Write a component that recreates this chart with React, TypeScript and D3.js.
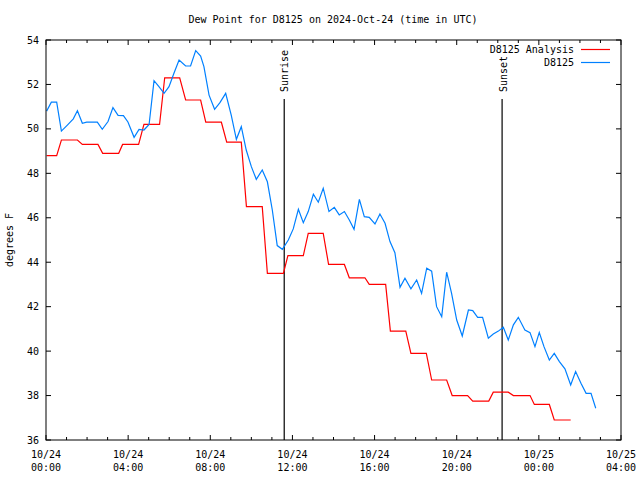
import React from 'react';
import * as d3 from 'd3';

// Hours since 2024-10-24 00:00 UTC
const obsHours = [
  0.03, 0.26, 0.52, 0.75, 1.04, 1.33, 1.53, 1.77, 1.98, 2.5, 2.74, 3.02, 3.26, 3.51, 3.77, 3.99,
  4.29, 4.53, 4.77, 5.02, 5.26, 5.5, 5.75, 5.99, 6.23, 6.48, 6.8, 7.04, 7.29, 7.53, 7.69, 7.94,
  8.21, 8.47, 8.75, 9.02, 9.27, 9.51, 9.75, 10.0, 10.24, 10.53, 10.78, 11.02, 11.26, 11.51, 11.8,
  12.04, 12.29, 12.53, 12.77, 13.02, 13.26, 13.5, 13.78, 14.04, 14.28, 14.53, 14.77, 15.0, 15.26,
  15.5, 15.74, 16.02, 16.26, 16.51, 16.75, 16.99, 17.24, 17.48, 17.77, 18.05, 18.29, 18.54, 18.78,
  19.02, 19.27, 19.51, 19.75, 20.0, 20.27, 20.57, 20.78, 21.02, 21.26, 21.54, 21.78, 22.03, 22.27,
  22.51, 22.76, 23.0, 23.32, 23.57, 23.81, 24.02, 24.25, 24.51, 24.75, 25.0, 25.27, 25.55, 25.79,
  26.05, 26.3, 26.54, 26.77,
];
const obsDewF = [
  50.8, 51.2, 51.2, 49.9, 50.17, 50.45, 50.82, 50.25, 50.3, 50.3, 49.98, 50.33, 50.96, 50.61, 50.6, 50.31,
  49.62, 49.98, 49.95, 50.2, 52.17, 51.9, 51.6, 51.9, 52.5, 53.1, 52.83, 52.83, 53.52, 53.28, 52.8, 51.52,
  50.88, 51.18, 51.6, 50.62, 49.53, 50.1, 49.05, 48.3, 47.73, 48.15, 47.62, 46.35, 44.75, 44.58, 45.0,
  45.5, 46.38, 45.78, 46.28, 47.06, 46.7, 47.33, 46.28, 46.47, 46.13, 46.28, 45.9, 45.48, 46.83,
  46.05, 46.02, 45.72, 46.17, 45.75, 44.93, 44.43, 42.87, 43.28, 42.8, 43.2, 42.6, 43.73, 43.6,
  42.0, 41.55, 43.55, 42.6, 41.4, 40.68, 41.85, 41.82, 41.52, 41.52, 40.58, 40.77, 40.9, 41.07,
  40.5, 41.18, 41.52, 40.95, 40.83, 40.2, 40.84, 40.2, 39.6, 39.9, 39.53, 39.2, 38.48, 39.08,
  38.55, 38.1, 38.1, 37.43,
];

// Analysis: hourly step values (start/end of each flat step, hours since 00:00 UTC)
const anaStartHours = [
  0.03, 0.75, 1.77, 2.76, 3.73, 4.77, 5.78, 6.8, 7.78, 8.8, 9.76, 10.78, 11.78,
  12.77, 13.76, 14.77, 15.74, 16.77, 17.77, 18.78, 19.78, 20.78, 21.78, 22.76, 23.78, 24.75,
];
const anaEndHours = [
  0.52, 1.53, 2.53, 3.54, 4.51, 5.53, 6.51, 7.53, 8.54, 9.51, 10.53, 11.56, 12.53,
  13.5, 14.53, 15.53, 16.54, 17.52, 18.52, 19.51, 20.53, 21.56, 22.51, 23.57, 24.51, 25.55,
];
const anaDewF = [
  48.8, 49.5, 49.3, 48.9, 49.3, 50.2, 52.3, 51.3, 50.3, 49.4, 46.5, 43.5, 44.3,
  45.3, 43.9, 43.3, 43.0, 40.9, 39.9, 38.7, 38.0, 37.75, 38.15, 38.0, 37.6, 36.9,
];

const yTicks = [36, 38, 40, 42, 44, 46, 48, 50, 52, 54];
const sunriseHour = 11.6;
const sunsetHour = 22.21;
const titleText = 'Dew Point for D8125 on 2024-Oct-24 (time in UTC)';
const yLabel = 'degrees F';
const seriesNames = ['D8125 Analysis', 'D8125'];
const seriesColors = ['#ff0000', '#0080ff'];

const W = 640;
const H = 480;
const L = 46;
const R = 621;
const T = 40;
const B = 440;
const FONT = '"DejaVu Sans Mono", monospace';

const base = Date.UTC(2024, 9, 24, 0, 0, 0);
const toDate = (h: number) => new Date(base + h * 3600e3);

export default function App() {
  const x = d3.scaleUtc().domain([toDate(0), toDate(28)]).range([L, R]);
  const y = d3.scaleLinear().domain([36, 54]).range([B, T]);

  const majorTicks = x.ticks(d3.utcHour.every(4)!);
  const minorTicks = x.ticks(d3.utcHour.every(1)!);
  const fmtDate = d3.utcFormat('%m/%d');
  const fmtTime = d3.utcFormat('%H:%M');

  const obsLine = d3
    .line<number>()
    .x((_, i) => x(toDate(obsHours[i])))
    .y((v) => y(v));

  const anaPts: [number, number][] = [];
  anaDewF.forEach((v, i) => {
    anaPts.push([anaStartHours[i], v]);
    anaPts.push([anaEndHours[i], v]);
  });
  const anaLine = d3
    .line<[number, number]>()
    .x((d) => x(toDate(d[0])))
    .y((d) => y(d[1]));

  const sr = x(toDate(sunriseHour));
  const ss = x(toDate(sunsetHour));

  return (
    <svg
      width={W}
      height={H}
      style={{ position: 'absolute', left: 0, top: 0, background: '#fff' }}
      fontFamily={FONT}
      fontSize={10}
    >
      <rect x={0} y={0} width={W} height={H} fill="#fff" />
      <text x={333} y={23} textAnchor="middle" fill="#000">
        {titleText}
      </text>

      {/* y ticks */}
      {yTicks.map((t) => (
        <g key={'y' + t}>
          <line x1={L} x2={L + 5} y1={y(t)} y2={y(t)} stroke="#000" />
          <line x1={R - 5} x2={R} y1={y(t)} y2={y(t)} stroke="#000" />
          <text x={39} y={y(t) + 3.5} textAnchor="end" fill="#000">
            {t}
          </text>
        </g>
      ))}

      {/* x ticks */}
      {minorTicks.map((d) => {
        const isMajor = d.getUTCHours() % 4 === 0;
        const len = isMajor ? 5 : 3;
        const px = x(d);
        return (
          <g key={'x' + d.getTime()}>
            <line x1={px} x2={px} y1={B} y2={B - len} stroke="#000" />
            <line x1={px} x2={px} y1={T} y2={T + len} stroke="#000" />
          </g>
        );
      })}
      {majorTicks.map((d) => (
        <g key={'xl' + d.getTime()}>
          <text x={x(d)} y={458} textAnchor="middle" fill="#000">
            {fmtDate(d)}
          </text>
          <text x={x(d)} y={471} textAnchor="middle" fill="#000">
            {fmtTime(d)}
          </text>
        </g>
      ))}

      <text
        transform={`translate(13,${(T + B) / 2}) rotate(-90)`}
        textAnchor="middle"
        fill="#000"
      >
        {yLabel}
      </text>

      {/* sunrise / sunset */}
      <line x1={sr} x2={sr} y1={99} y2={B} stroke="#000" strokeWidth={1.2} />
      <text transform={`translate(${sr + 4},92) rotate(-90)`} fill="#000">
        Sunrise
      </text>
      <line x1={ss} x2={ss} y1={99} y2={B} stroke="#000" strokeWidth={1.2} />
      <text transform={`translate(${ss + 4.5},92) rotate(-90)`} fill="#000">
        Sunset
      </text>

      {/* series */}
      <path d={anaLine(anaPts) || ''} fill="none" stroke={seriesColors[0]} strokeWidth={1.2} />
      <path d={obsLine(obsDewF) || ''} fill="none" stroke={seriesColors[1]} strokeWidth={1.2} />

      {/* legend */}
      {seriesNames.map((n, i) => (
        <g key={n}>
          <text x={574} y={53 + i * 13} textAnchor="end" fill="#000">
            {n}
          </text>
          <line x1={581} x2={610} y1={49.5 + i * 13} y2={49.5 + i * 13} stroke={seriesColors[i]} strokeWidth={1.2} />
        </g>
      ))}

      {/* frame */}
      <rect x={L} y={T} width={R - L} height={B - T} fill="none" stroke="#000" strokeWidth={1} />
    </svg>
  );
}
